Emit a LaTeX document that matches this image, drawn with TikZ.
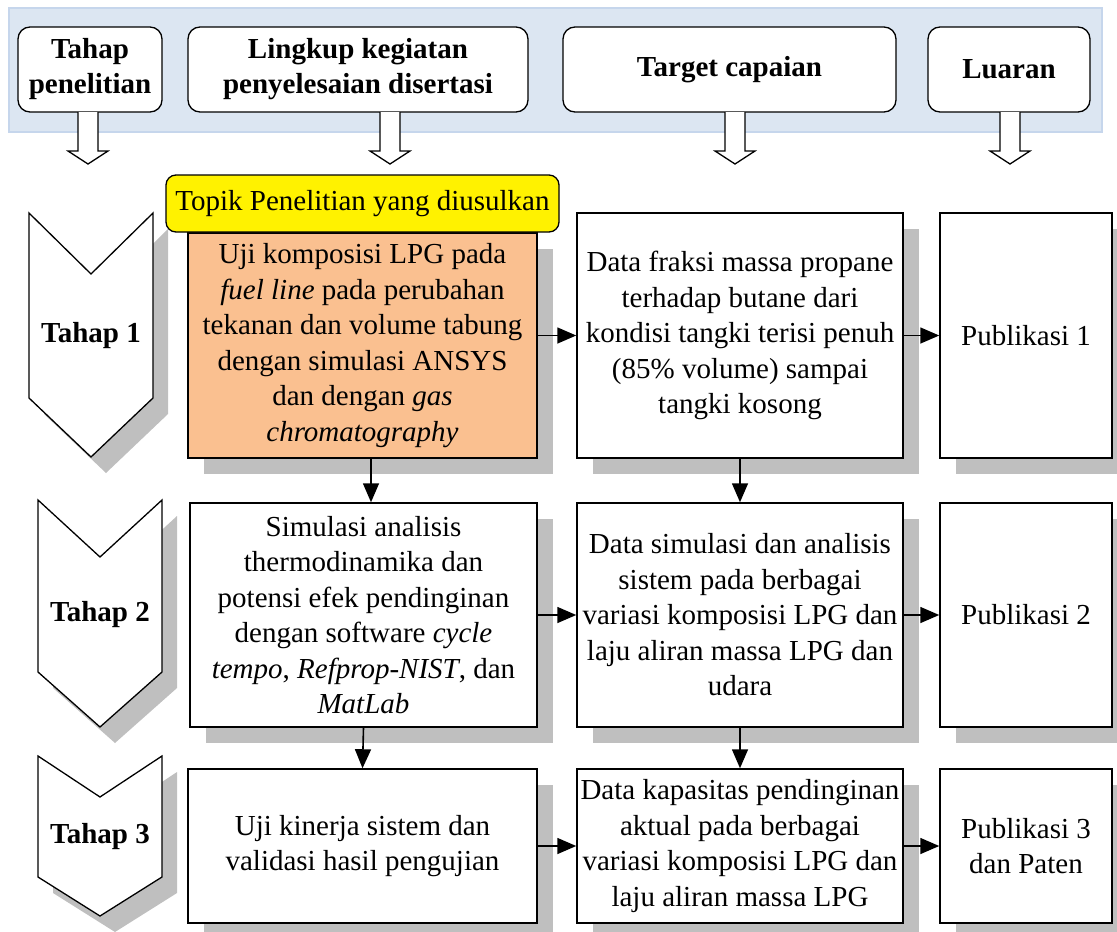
\documentclass[tikz,border=0pt]{standalone}
\usepackage{fontspec}
\setmainfont{Liberation Serif}
\usetikzlibrary{arrows.meta,shadows}

\definecolor{bandfill}{RGB}{220,230,242}
\definecolor{bandline}{RGB}{198,214,236}
\definecolor{peach}{RGB}{250,192,144}
\definecolor{shadowgray}{RGB}{191,191,191}

\tikzset{
  txt/.style={font=\fontsize{29}{35.5}\selectfont, align=center},
  head/.style={draw, line width=1.3pt, fill=white, rounded corners=12pt, align=center,
    font=\fontsize{29}{35}\selectfont\bfseries, minimum height=85pt, inner sep=0pt},
  box/.style={txt, draw, line width=1.5pt, fill=white, inner sep=0pt,
    drop shadow={shadow xshift=16pt, shadow yshift=-16pt, fill=shadowgray, opacity=1}},
  link/.style={line width=1.6pt, -{Triangle[length=19pt,width=16pt]}},
}

\begin{document}
\begin{tikzpicture}[x=1pt,y=-1pt]
\useasboundingbox (0,0) rectangle (1117,932);

% header band
\draw[fill=bandfill, draw=bandline, line width=1.2pt] (9,8) rectangle (1102,132);
\node[head, minimum width=144pt] (hTahap) at (90,69.5) {Tahap\\penelitian};
\node[head, minimum width=340pt] (hLingkup) at (358,69.5) {Lingkup kegiatan\\penyelesaian disertasi};
\node[head, minimum width=333pt] (hTarget) at (729.5,69.5) {Target capaian};
\node[head, minimum width=162pt] (hLuaran) at (1009,69.5) {Luaran};

% hollow arrows
\foreach \cx in {88,390,735,1010}
  \draw[line width=1.3pt, fill=white] (\cx-10,112) -- (\cx-10,151) -- (\cx-20,151) -- (\cx,164)
    -- (\cx+20,151) -- (\cx+10,151) -- (\cx+10,112);

% tahap chevrons
\foreach \nm/\l/\r/\t/\n/\b/\p/\lab in {t1/29/153/213/274/398/457/1, t2/38/162/500/557/672/727/2, t3/38/162/756/797/877/916/3}
{
  \fill[shadowgray, shift={(15,16)}] (\l,\t) -- ({(\l+\r)/2},\n) -- (\r,\t) -- (\r,\b) -- ({(\l+\r)/2},\p) -- (\l,\b) -- cycle;
  \draw[line width=1.3pt, fill=white] (\l,\t) -- ({(\l+\r)/2},\n) -- (\r,\t) -- (\r,\b) -- ({(\l+\r)/2},\p) -- (\l,\b) -- cycle;
  \node[font=\fontsize{29}{35}\selectfont\bfseries] (\nm) at ({(\l+\r)/2},{(\n+\b)/2}) {Tahap \lab};
}

% tahap 1
\node[box, fill=peach, minimum width=349pt, minimum height=225pt] (o1) at (362.5,345.5)
  {Uji komposisi LPG pada\\\textit{fuel line} pada perubahan\\tekanan dan volume tabung\\dengan simulasi ANSYS\\dan dengan \textit{gas}\\\textit{chromatography}};
\node[txt, draw, line width=1.3pt, fill=yellow, rounded corners=10pt, minimum width=393pt, minimum height=57pt, inner sep=0pt]
  (topik) at (362.5,203.5) {Topik Penelitian yang diusulkan};
\node[box, minimum width=326pt, minimum height=245pt] (d1) at (740,335.5)
  {Data fraksi massa propane\\terhadap butane dari\\kondisi tangki terisi penuh\\(85\% volume) sampai\\tangki kosong};
\node[box, minimum width=172pt, minimum height=245pt] (p1) at (1026,335.5) {Publikasi 1};

% tahap 2
\node[box, minimum width=347pt, minimum height=224pt] (s2) at (363.5,615)
  {Simulasi analisis\\thermodinamika dan\\potensi efek pendinginan\\dengan software \textit{cycle}\\\textit{tempo}, \textit{Refprop-NIST}, dan\\\textit{MatLab}};
\node[box, minimum width=326pt, minimum height=224pt] (d2) at (740,615)
  {Data simulasi dan analisis\\sistem pada berbagai\\variasi komposisi LPG dan\\laju aliran massa LPG dan\\udara};
\node[box, minimum width=172pt, minimum height=224pt] (p2) at (1026,615) {Publikasi 2};

% tahap 3
\node[box, minimum width=349pt, minimum height=154pt] (u3) at (362.5,846)
  {Uji kinerja sistem dan\\validasi hasil pengujian};
\node[box, minimum width=326pt, minimum height=154pt] (d3) at (740,846)
  {Data kapasitas pendinginan\\aktual pada berbagai\\variasi komposisi LPG dan\\laju aliran massa LPG};
\node[box, minimum width=172pt, minimum height=154pt] (p3) at (1026,846) {Publikasi 3\\dan Paten};

% arrows
\draw[link] (o1.east |- d1.west) -- (d1.west);
\draw[link] (d1.east) -- (p1.west);
\draw[link] (s2.east) -- (d2.west);
\draw[link] (d2.east) -- (p2.west);
\draw[link] (u3.east) -- (d3.west);
\draw[link] (d3.east) -- (p3.west);
\draw[link] ([xshift=8.5pt]o1.south) -- ([xshift=8.5pt]o1.south |- s2.north);
\draw[link] (d1.south) -- (d2.north);
\draw[link] (s2.south) -- (u3.north);
\draw[link] (d2.south) -- (d3.north);
\end{tikzpicture}
\end{document}
